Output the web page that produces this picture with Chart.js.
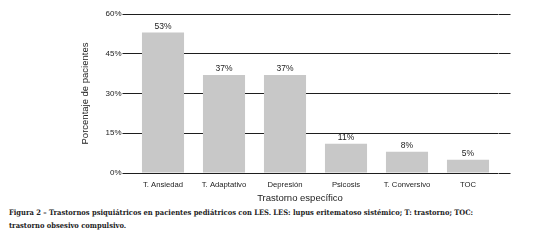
<!DOCTYPE html>
<html>
<head>
<meta charset="utf-8">
<script src="https://cdn.jsdelivr.net/npm/chart.js@4"></script>
<style>
  body { margin: 0; background: #fff; }
  #wrap { position: relative; width: 544px; height: 206px; }
  #xtitle {
    position: absolute; left: 200px; width: 200px; top: 192px;
    text-align: center; font: 9.5px "Liberation Sans", Arial, sans-serif; color: #222;
  }
  #caption {
    margin: 0 0 0 9px; white-space: nowrap;
    font: bold 7.5px/13px "DejaVu Serif Condensed", "DejaVu Serif", serif; color: #222;
  }
</style>
</head>
<body>
<div id="wrap">
  <canvas id="chart" width="544" height="206"></canvas>
  <div id="xtitle">Trastorno específico</div>
</div>
<div id="caption">Figura 2 – Trastornos psiquiátricos en pacientes pediátricos con LES. LES: lupus eritematoso sistémico; T: trastorno; TOC:<br>trastorno obsesivo compulsivo.</div>

<script>
const categories = ["T. Ansiedad", "T. Adaptativo", "Depresión", "Psicosis", "T. Conversivo", "TOC"];
const percentages = [53, 37, 37, 11, 8, 5];
const yTicks = [0, 15, 30, 45, 60];

// Draw the % value above each bar
const valueLabels = {
    id: "valueLabels",
    afterDatasetsDraw(chart) {
        const ctx = chart.ctx;
        const meta = chart.getDatasetMeta(0);
        ctx.save();
        ctx.font = "8.5px 'Liberation Sans', Arial, sans-serif";
        ctx.fillStyle = "#222";
        ctx.textAlign = "center";
        ctx.textBaseline = "bottom";
        meta.data.forEach((bar, i) => {
            ctx.fillText(percentages[i] + "%", bar.x, bar.y - 2);
        });
        ctx.restore();
    }
};

const ctx = document.getElementById("chart").getContext("2d");
new Chart(ctx, {
    type: "bar",
    data: {
        labels: categories,
        datasets: [{
            data: percentages,
            backgroundColor: "#c8c8c8",
            barPercentage: 0.69,
            categoryPercentage: 1
        }]
    },
    plugins: [valueLabels],
    options: {
        responsive: false,
        animation: false,
        layout: { padding: { left: 78, right: 33.5, top: 14, bottom: 0 } },
        plugins: { legend: { display: false }, tooltip: { enabled: false } },
        scales: {
            x: {
                grid: { display: false, drawTicks: false },
                border: { display: false },
                ticks: {
                    padding: 7,
                    color: "#222",
                    font: { family: "'Liberation Sans', Arial, sans-serif", size: 7.7 }
                },
                afterFit(scale) { scale.height = 33; }
            },
            y: {
                min: 0,
                max: 60,
                afterBuildTicks(scale) { scale.ticks = yTicks.map(v => ({ value: v })); },
                grid: { color: "#1e1e1e", lineWidth: 1, tickLength: 10, drawTicks: true },
                border: { display: false },
                ticks: {
                    padding: 1,
                    color: "#222",
                    font: { family: "'Liberation Sans', Arial, sans-serif", size: 8 },
                    callback: v => v + "%"
                },
                title: {
                    display: true,
                    text: "Porcentaje de pacientes",
                    color: "#222",
                    padding: { top: 2, bottom: 0 },
                    font: { family: "'Liberation Sans', Arial, sans-serif", size: 9.5 }
                },
                afterFit(scale) { scale.width = 54.5; }
            },
            y2: {
                position: "right",
                min: 0,
                max: 60,
                afterBuildTicks(scale) { scale.ticks = yTicks.map(v => ({ value: v })); },
                grid: { color: "#1e1e1e", lineWidth: 1, tickLength: 12, drawOnChartArea: false },
                border: { display: false },
                ticks: { display: false },
                afterFit(scale) { scale.width = 12; }
            }
        }
    }
});
</script>
</body>
</html>
